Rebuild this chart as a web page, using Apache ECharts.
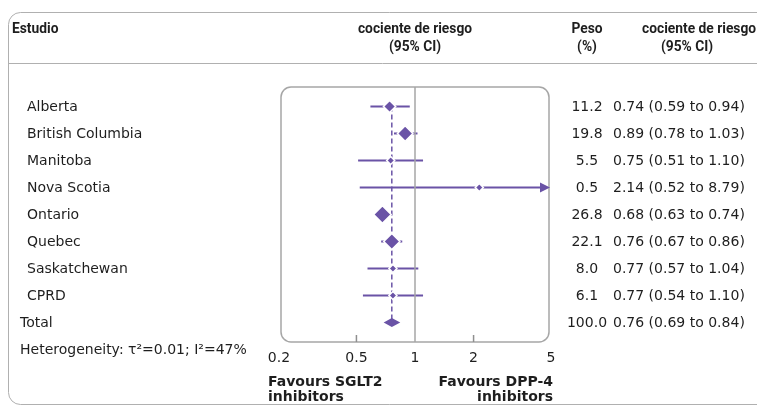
<!DOCTYPE html>
<html><head><meta charset="utf-8">
<script src="https://cdn.jsdelivr.net/npm/echarts@6/dist/echarts.min.js"></script>
<style>html,body{margin:0;padding:0;background:#fff}#c{width:757px;height:407px}</style>
</head><body><div id="c"></div>
<script>
const studies = ['Alberta','British Columbia','Manitoba','Nova Scotia','Ontario','Quebec','Saskatchewan','CPRD'];
const rr      = [0.74, 0.89, 0.75, 2.14, 0.68, 0.76, 0.77, 0.77];
const ciLow   = [0.59, 0.78, 0.51, 0.52, 0.63, 0.67, 0.57, 0.54];
const ciHigh  = [0.94, 1.03, 1.10, 8.79, 0.74, 0.86, 1.04, 1.10];
const weights = [11.2, 19.8, 5.5, 0.5, 26.8, 22.1, 8.0, 6.1];
const totalName = 'Total';
const totalRR = 0.76, totalLow = 0.69, totalHigh = 0.84, totalWeight = 100.0;
const xTicks = [0.2, 0.5, 1, 2, 5];
const xTickLabels = ['0.2', '0.5', '1', '2', '5'];
const innerTicks = [0.5, 2];
const xMin = 0.2, xMax = 5;

const PURPLE = '#6a53a6';
const GRAY = '#a6a6a6';
const TXT = '#1e1e1e';
const BODY = "'DejaVu Sans',sans-serif";
const HEAD = "Roboto,'Liberation Sans',sans-serif";
const HS = 0.92;

const nRows = studies.length + 1;
const yMin = -0.72, yMax = nRows - 1 + 0.72;
const rowText = [];
for (let i = 0; i < studies.length; i++) {
  rowText.push({ name: studies[i], w: weights[i].toFixed(1),
    ci: rr[i].toFixed(2) + ' (' + ciLow[i].toFixed(2) + ' to ' + ciHigh[i].toFixed(2) + ')', total: false });
}
rowText.push({ name: totalName, w: totalWeight.toFixed(1),
  ci: totalRR.toFixed(2) + ' (' + totalLow.toFixed(2) + ' to ' + totalHigh.toFixed(2) + ')', total: true });

const chart = echarts.init(document.getElementById('c'), null, { renderer: 'canvas' });

function markerSize(w) { return w >= 10 ? 2.9 * Math.sqrt(w) + 2.5 : 8; }

function head(text, x, y, align) {
  return { type: 'text', x: x, y: y, scaleX: HS, silent: true,
    style: { text: text, font: 'bold 15px ' + HEAD, fill: TXT, align: align, verticalAlign: 'middle' } };
}

const baseGraphic = [
  { type: 'rect', silent: true, shape: { x: 8.5, y: 12.5, width: 800, height: 392, r: 12 },
    style: { fill: 'none', stroke: '#b0b0b0', lineWidth: 1 } },
  { type: 'line', silent: true, shape: { x1: 8, y1: 63.5, x2: 757, y2: 63.5 },
    style: { stroke: '#b0b0b0', lineWidth: 1 } },
  { type: 'rect', silent: true, shape: { x: 281, y: 87, width: 268, height: 255, r: 10 },
    style: { fill: 'none', stroke: GRAY, lineWidth: 1.5 } },
  head('Estudio', 12, 29, 'left'),
  head('cociente de riesgo', 415, 29, 'center'),
  head('(95% CI)', 415, 47, 'center'),
  head('Peso', 587, 29, 'center'),
  head('(%)', 587, 47, 'center'),
  head('cociente de riesgo', 642, 29, 'left'),
  head('(95% CI)', 687, 47, 'center'),
  { type: 'text', x: 20, y: 350, style: { text: 'Heterogeneity: τ²=0.01; I²=47%', font: '14px ' + BODY, fill: TXT, verticalAlign: 'middle' } },
  { type: 'text', x: 268, y: 382, style: { text: 'Favours SGLT2', font: 'bold 14px ' + BODY, fill: TXT, verticalAlign: 'middle' } },
  { type: 'text', x: 268, y: 397, style: { text: 'inhibitors', font: 'bold 14px ' + BODY, fill: TXT, verticalAlign: 'middle' } },
  { type: 'text', x: 553, y: 382, style: { text: 'Favours DPP-4', font: 'bold 14px ' + BODY, fill: TXT, align: 'right', verticalAlign: 'middle' } },
  { type: 'text', x: 553, y: 397, style: { text: 'inhibitors', font: 'bold 14px ' + BODY, fill: TXT, align: 'right', verticalAlign: 'middle' } }
];

const option = {
  animation: false,
  backgroundColor: '#fff',
  grid: { left: 279, top: 87, width: 272, height: 255, containLabel: false },
  xAxis: {
    type: 'log', logBase: 10, min: xMin, max: xMax,
    axisLine: { show: false, onZero: false },
    splitLine: { show: false },
    axisTick: { show: false },
    axisLabel: { show: true, customValues: xTicks, margin: 9,
      fontFamily: BODY, fontSize: 14, color: TXT,
      formatter: function (v) {
        let best = 0, bd = Infinity;
        for (let k = 0; k < xTicks.length; k++) { const d = Math.abs(Math.log(v) - Math.log(xTicks[k])); if (d < bd) { bd = d; best = k; } }
        return xTickLabels[best];
      } }
  },
  yAxis: { type: 'value', inverse: true, min: yMin, max: yMax, show: false },
  graphic: baseGraphic,
  series: [
    {
      name: 'ci', type: 'custom', z: 2, clip: false,
      data: studies.map((s, i) => [ciLow[i], ciHigh[i], i]),
      renderItem: function (params, api) {
        const lo = api.value(0), hi = api.value(1), row = api.value(2);
        const p1 = api.coord([Math.max(lo, xMin), row]);
        const clipped = hi > xMax;
        const p2 = api.coord([Math.min(hi, xMax), row]);
        const children = [];
        if (clipped) {
          children.push({ type: 'line', shape: { x1: p1[0], y1: p1[1], x2: p2[0] - 8, y2: p2[1] },
            style: { stroke: PURPLE, lineWidth: 2 } });
          children.push({ type: 'polygon', shape: { points: [[p2[0] - 1, p2[1]], [p2[0] - 11, p2[1] - 5], [p2[0] - 11, p2[1] + 5]] },
            style: { fill: PURPLE } });
        } else {
          children.push({ type: 'line', shape: { x1: p1[0], y1: p1[1], x2: p2[0], y2: p2[1] },
            style: { stroke: PURPLE, lineWidth: 2 } });
        }
        return { type: 'group', children: children };
      }
    },
    {
      name: 'pooled', type: 'line', z: 3, symbol: 'none',
      data: [[totalRR, 0], [totalRR, nRows - 1]],
      lineStyle: { color: PURPLE, width: 1.5, type: [5, 3] },
      markLine: { silent: true, symbol: 'none', label: { show: false },
        lineStyle: { color: GRAY, type: 'solid', width: 1.5 },
        data: [{ xAxis: 1 }] }
    },
    {
      name: 'est', type: 'scatter', z: 4, symbol: 'diamond',
      data: studies.map((s, i) => [rr[i], i, weights[i]]),
      symbolSize: function (v) { return markerSize(v[2]); },
      itemStyle: { color: PURPLE, borderColor: '#fff', borderWidth: 1.5, opacity: 1 }
    },
    {
      name: 'total', type: 'custom', z: 4,
      data: [[totalLow, totalRR, totalHigh, nRows - 1]],
      renderItem: function (params, api) {
        const row = api.value(3);
        const a = api.coord([api.value(0), row]);
        const m = api.coord([api.value(1), row]);
        const b = api.coord([api.value(2), row]);
        return { type: 'polygon', shape: { points: [a, [m[0], m[1] - 4.5], b, [m[0], m[1] + 4.5]] },
          style: { fill: PURPLE } };
      }
    },
    {
      name: 'table', type: 'custom', z: 5, clip: false, silent: true,
      data: rowText.map((r, i) => [xMin, i]),
      renderItem: function (params, api) {
        const i = params.dataIndex;
        const y = api.coord([xMin, api.value(1)])[1] + 1;
        const r = rowText[i];
        return { type: 'group', children: [
          { type: 'text', x: r.total ? 20 : 27, y: y, style: { text: r.name, font: '14px ' + BODY, fill: TXT, verticalAlign: 'middle' } },
          { type: 'text', x: 587, y: y, style: { text: r.w, font: '14px ' + BODY, fill: TXT, align: 'center', verticalAlign: 'middle' } },
          { type: 'text', x: 613, y: y, style: { text: r.ci, font: '14px ' + BODY, fill: TXT, verticalAlign: 'middle' } }
        ] };
      }
    }
  ]
};
chart.setOption(option);

// inner tick marks on the bottom edge of the plot box, positioned through the x scale
const tickGraphic = innerTicks.map(function (v) {
  const p = chart.convertToPixel({ gridIndex: 0 }, [v, yMax]);
  return { type: 'line', silent: true, z: 50,
    shape: { x1: p[0], y1: p[1], x2: p[0], y2: p[1] - 7 },
    style: { stroke: '#8f8f8f', lineWidth: 1.5 } };
});
chart.setOption({ graphic: baseGraphic.concat(tickGraphic) });
</script></body></html>
